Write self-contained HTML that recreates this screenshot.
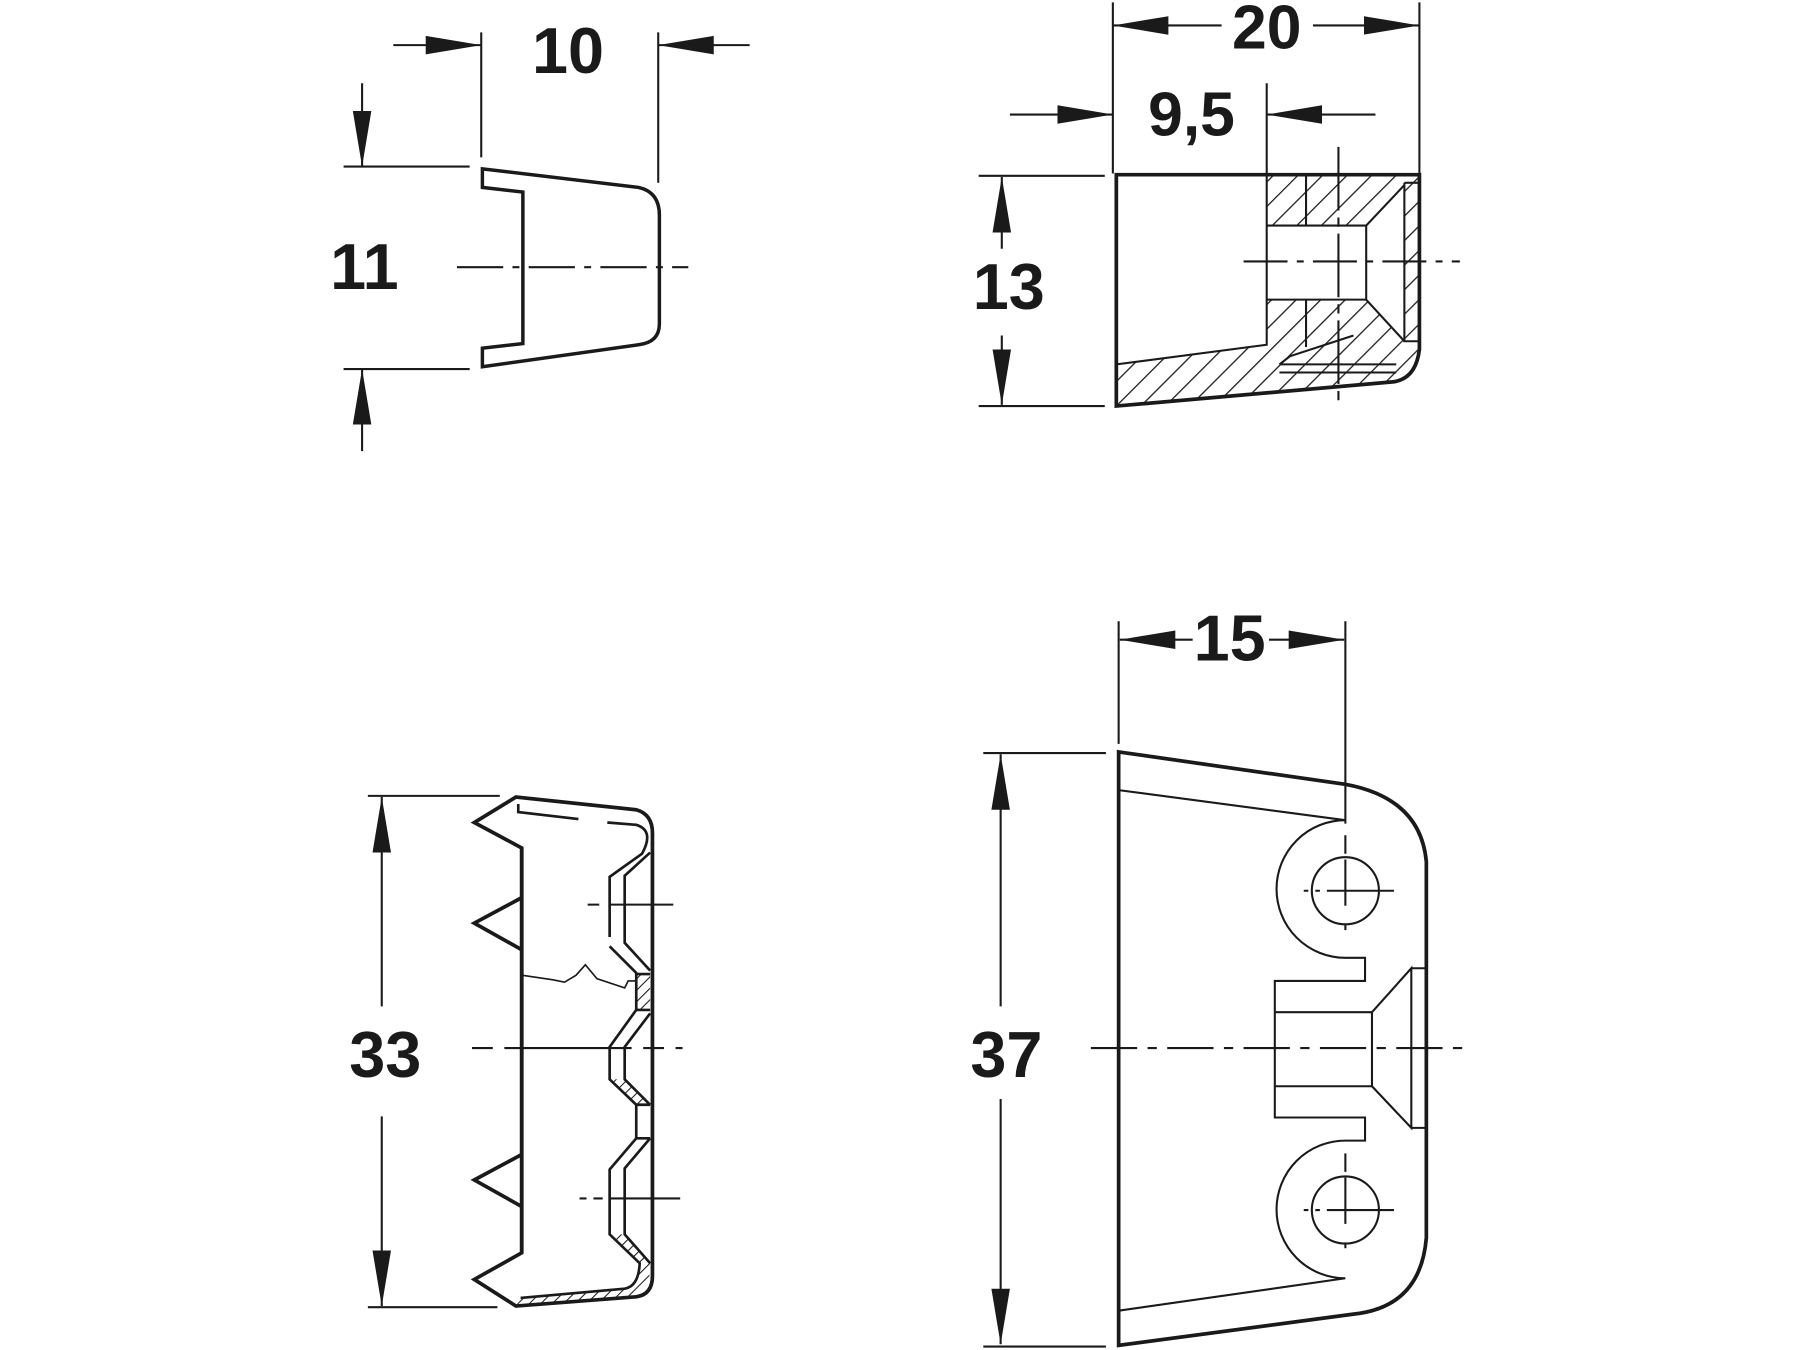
<!DOCTYPE html>
<html><head><meta charset="utf-8"><style>
html,body{margin:0;padding:0;background:#fff;}
svg{display:block}
text{font-family:"Liberation Sans",sans-serif;font-weight:bold;fill:#1a1a1a;}
</style></head><body>
<svg width="1800" height="1350" viewBox="0 0 1556 1167" xmlns="http://www.w3.org/2000/svg">
<defs>
<marker id="a" markerUnits="userSpaceOnUse" markerWidth="50" markerHeight="18" refX="48" refY="9" orient="auto">
<path d="M0,1 L48,9 L0,17 Z" fill="#1a1a1a"/></marker>
<pattern id="h" patternUnits="userSpaceOnUse" width="15" height="15" patternTransform="rotate(45)">
<line x1="0" y1="0" x2="0" y2="15" stroke="#1a1a1a" stroke-width="2.2"/></pattern>
<pattern id="h2" patternUnits="userSpaceOnUse" width="7" height="7" patternTransform="rotate(45)">
<line x1="0" y1="0" x2="0" y2="7" stroke="#1a1a1a" stroke-width="1.8"/></pattern>
</defs>
<g stroke="#1a1a1a" fill="none" stroke-linecap="butt">

<!-- ===== Top-left (10 / 11) ===== -->
<g stroke-width="1.8">
<line x1="416" y1="28" x2="416" y2="136"/>
<line x1="569" y1="28" x2="569" y2="158"/>
<line x1="340" y1="39" x2="416" y2="39" marker-end="url(#a)"/>
<line x1="648" y1="39" x2="569" y2="39" marker-end="url(#a)"/>
<line x1="297" y1="144" x2="406" y2="144"/>
<line x1="297" y1="319" x2="406" y2="319"/>
<line x1="313" y1="72" x2="313" y2="144" marker-end="url(#a)"/>
<line x1="313" y1="390" x2="313" y2="319" marker-end="url(#a)"/>
<line x1="395" y1="231" x2="595" y2="231" stroke-dasharray="40,8,6,8"/>
</g>
<path d="M417,146 L552,162 Q570,166 570,186 L570,280 Q570,296 552,298 L417,317 L417,301 L452,297 L452,166 L417,162 Z" stroke-width="3"/>
</g>
<text x="491" y="63" font-size="56" text-anchor="middle">10</text>
<text x="315" y="250" font-size="56" text-anchor="middle">11</text>

<g stroke="#1a1a1a" fill="none">
<!-- ===== Top-right (20 / 9,5 / 13) ===== -->
<g stroke-width="1.8">
<line x1="962" y1="2" x2="962" y2="150"/>
<line x1="1227" y1="2" x2="1227" y2="150"/>
<line x1="1056" y1="22" x2="962" y2="22" marker-end="url(#a)"/>
<line x1="1135" y1="22" x2="1227" y2="22" marker-end="url(#a)"/>
<line x1="1095" y1="72" x2="1095" y2="152"/>
<line x1="873" y1="99" x2="962" y2="99" marker-end="url(#a)"/>
<line x1="1189" y1="99" x2="1095" y2="99" marker-end="url(#a)"/>
<line x1="846" y1="152" x2="955" y2="152"/>
<line x1="846" y1="351" x2="955" y2="351"/>
<line x1="866" y1="215" x2="866" y2="153" marker-end="url(#a)"/>
<line x1="866" y1="290" x2="866" y2="350" marker-end="url(#a)"/>
<line x1="1157" y1="127" x2="1157" y2="346" stroke-dasharray="55,6,8,6"/>
<line x1="1075" y1="226" x2="1262" y2="226" stroke-dasharray="38,8,6,8"/>
</g>
<path d="M1095,151 L1227,151 L1227,302 Q1224,327 1205,330 L965,351 L965,315 L1095,298 Z M1095,195 L1181,195 L1214,160 L1214,295 L1181,259 L1095,259 Z" fill="url(#h)" fill-rule="evenodd" stroke="none"/>
<g stroke-width="1.8">
<path d="M1095,151 L1095,298 L965,315"/>
<path d="M1095,195 L1181,195 L1214,160 M1095,259 L1181,259 L1214,295 M1181,195 L1181,259 M1214,158 L1214,295 L1227,295"/>
<path d="M1214,158 L1227,158"/>
<path d="M1106,315 L1207,315 M1106,322 L1207,322 M1106,315 L1115,308 L1170,290"/>
<line x1="1129" y1="151" x2="1129" y2="195"/><line x1="1129" y1="259" x2="1129" y2="300"/>
</g>
<path d="M965,151 L1227,151 L1227,302 Q1224,327 1205,330 L965,351 Z" stroke-width="3.2"/>
</g>
<text x="1095" y="42" font-size="54" text-anchor="middle">20</text>
<text x="1030" y="117" font-size="54" text-anchor="middle">9,5</text>
<text x="872" y="267" font-size="56" text-anchor="middle">13</text>

<g stroke="#1a1a1a" fill="none">
<!-- ===== Bottom-left (33) ===== -->
<g stroke-width="1.8">
<line x1="318" y1="688" x2="432" y2="688"/>
<line x1="318" y1="1130" x2="430" y2="1130"/>
<line x1="330" y1="870" x2="330" y2="689" marker-end="url(#a)"/>
<line x1="330" y1="965" x2="330" y2="1129" marker-end="url(#a)"/>
<line x1="408" y1="906" x2="590" y2="906" stroke-dasharray="18,10,110,10"/>
<line x1="508" y1="782" x2="582" y2="782" stroke-dasharray="10,8,60"/>
<line x1="501" y1="1036" x2="588" y2="1036" stroke-dasharray="6,6,8,6,70"/>
<path d="M451,843 L478,847 L488,849 L498,843 L506,834 L516,846 L540,854 L543,848 L550,848" stroke-width="1.4"/>
</g>
<g stroke-width="2.3">
<path d="M448,695 L448,702 L500,708 M525,711 L550,713 Q566,718 555,738 L527,758 L527,810 M527,818 L550,841 L550,873 L527,905 L527,933 L550,955 L550,984 L527,1011 L527,1067 L553,1092 Q552,1112 540,1114 L450,1122"/>
<path d="M562,737 L540,757 L540,815 L562,839 M562,876 L540,905 L540,933 L562,955 M562,984 L540,1010 L540,1067 L562,1092"/>
<path d="M550,842 L562,842 M550,873 L562,873 M550,955 L562,955 M550,984 L562,984"/>
</g>
<path d="M550,842 L562,842 L562,873 L550,873 Z" fill="url(#h2)" stroke="none"/>
<path d="M527,933 L540,933 L562,955 L550,955 Z" fill="url(#h2)" stroke="none"/>
<path d="M527,1067 L540,1067 L562,1092 L553,1092 Z" fill="url(#h2)" stroke="none"/>
<path d="M450,1122 L540,1114 Q552,1112 553,1092 L562,1092 Q562,1120 548,1121 L446,1129 Z" fill="url(#h2)" stroke="none"/>
<path d="M451,733 L410,711 L446,689 L550,700 Q564,704 564,720 L564,1103 Q564,1119 550,1121 L446,1129 L410,1106 L451,1083 Z" stroke-width="3.2" stroke-linejoin="miter"/>
<path d="M451,776 L410,798 L451,821 M451,998 L410,1020 L451,1043" stroke-width="3.2"/>
<line x1="451" y1="733" x2="451" y2="1083" stroke-width="3.2"/>

<!-- ===== Bottom-right (15 / 37) ===== -->
<g stroke-width="1.8">
<line x1="967" y1="537" x2="967" y2="643"/>
<line x1="1163" y1="537" x2="1163" y2="712"/>
<line x1="1031" y1="553" x2="968" y2="553" marker-end="url(#a)"/>
<line x1="1097" y1="553" x2="1162" y2="553" marker-end="url(#a)"/>
<line x1="850" y1="651" x2="956" y2="651"/>
<line x1="850" y1="1164" x2="956" y2="1164"/>
<line x1="865" y1="870" x2="865" y2="652" marker-end="url(#a)"/>
<line x1="865" y1="950" x2="865" y2="1162" marker-end="url(#a)"/>
<line x1="943" y1="906" x2="1265" y2="906" stroke-dasharray="40,9,8,9"/>
<path d="M967,683 L1163,709 A59,59 0 0 0 1163,828 L1180,828 L1180,848 L1102,848 L1102,966 L1180,966 L1180,986 L1163,986 A59,59 0 0 0 1163,1105 L967,1133"/>
<path d="M1102,875 L1186,875 L1186,939 L1102,939 M1186,875 L1220,837 L1220,975 L1186,939 M1220,837 L1233,837 M1220,975 L1233,975"/>
<circle cx="1163" cy="770" r="29"/>
<circle cx="1163" cy="1046" r="29"/>
<line x1="1163" y1="722" x2="1163" y2="830" stroke-dasharray="16,5,40"/>
<line x1="1127" y1="770" x2="1205" y2="770" stroke-dasharray="4,6,4,6,60"/>
<line x1="1163" y1="997" x2="1163" y2="1100" stroke-dasharray="16,5,40"/>
<line x1="1127" y1="1046" x2="1205" y2="1046" stroke-dasharray="4,6,4,6,60"/>
</g>
<path d="M967,650 L1163,678 Q1228,690 1233,745 L1233,1070 Q1228,1130 1170,1136 L967,1163 Z" stroke-width="3.2"/>
</g>
<text x="333" y="931" font-size="56" text-anchor="middle">33</text>
<text x="870" y="931" font-size="56" text-anchor="middle">37</text>
<text x="1063" y="571" font-size="56" text-anchor="middle">15</text>
</svg>
</body></html>
